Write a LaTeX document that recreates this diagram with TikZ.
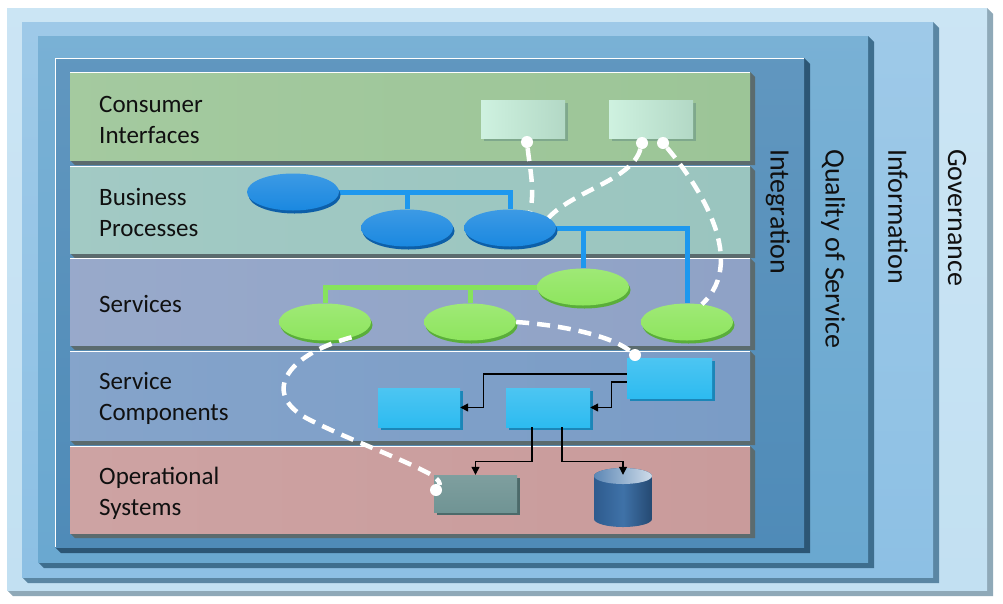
\documentclass[tikz,border=0pt]{standalone}
\usepackage{fontspec}
\setmainfont{Carlito}
\usetikzlibrary{shapes.geometric,arrows.meta,shadows}
\definecolor{govc}{HTML}{C2E0F2}
\definecolor{govs}{HTML}{8FA9B8}
\definecolor{infc}{HTML}{8DC0E4}
\definecolor{infs}{HTML}{5A86A3}
\definecolor{qosc}{HTML}{6AA8D0}
\definecolor{qoss}{HTML}{3E6E8E}
\definecolor{intc}{HTML}{4F8BB8}
\definecolor{ints}{HTML}{2C5675}
\definecolor{rowci}{HTML}{9CC597}
\definecolor{rowbp}{HTML}{9AC5BF}
\definecolor{rowsv}{HTML}{8FA2C6}
\definecolor{rowsc}{HTML}{7A9CC6}
\definecolor{rowos}{HTML}{C99B9B}
\definecolor{rowsh}{HTML}{5B6B6E}
\definecolor{bpblue}{HTML}{1A88E0}
\definecolor{bpdark}{HTML}{0D5FA8}
\definecolor{bpline}{HTML}{1E98EE}
\definecolor{svgreen}{HTML}{8EE55E}
\definecolor{svdark}{HTML}{5AAE3A}
\definecolor{svline}{HTML}{86E35C}
\definecolor{cyanbox}{HTML}{2DBBF0}
\definecolor{cyandark}{HTML}{1B86B8}
\definecolor{mint}{HTML}{C2EED8}
\definecolor{mintdark}{HTML}{7FA88C}
\definecolor{osbox}{HTML}{709494}
\definecolor{osdark}{HTML}{4C6A6A}
\definecolor{cylbody}{HTML}{2E5B8E}
\definecolor{cylmid}{HTML}{3F72A8}
\definecolor{labc}{HTML}{101010}
\pgfdeclarelayer{back}
\pgfdeclarelayer{lines}
\pgfsetlayers{back,lines,main}
\newcommand\slab[7]{%
  \fill[#6] (#3,#2) -- (#3+#7,#2+#7) -- (#3+#7,#4+#7) -- (#1+#7,#4+#7) -- (#1,#4) -- cycle;
  \fill[#5] (#1,#2) rectangle (#3,#4);
}
\tikzset{
  lab/.style={font=\fontsize{25}{31}\selectfont, text=labc, align=left, anchor=west, inner sep=0pt},
  vlab/.style={font=\fontsize{28}{32}\selectfont, text=labc, rotate=-90, anchor=west, inner sep=0pt},
  bpell/.style={ellipse, minimum width=92pt, minimum height=37pt, inner sep=0pt,
    top color=bpblue!85!white, bottom color=bpblue, general shadow={fill=bpdark, shadow xshift=1.5pt, shadow yshift=-3pt}},
  svell/.style={ellipse, minimum width=92pt, minimum height=37pt, inner sep=0pt,
    top color=svgreen!85!white, bottom color=svgreen, general shadow={fill=svdark, shadow xshift=1.5pt, shadow yshift=-3pt}},
  cibox/.style={rectangle, minimum width=84pt, minimum height=38pt, inner sep=0pt,
    left color=mint!80!white, right color=mint!90!black!95, general shadow={fill=mintdark, shadow xshift=3pt, shadow yshift=-3pt}},
  scbox/.style={rectangle, inner sep=0pt, top color=cyanbox!85!white, bottom color=cyanbox,
    general shadow={fill=cyandark, shadow xshift=3pt, shadow yshift=-3pt}},
  osstyle/.style={rectangle, minimum width=83pt, minimum height=37pt, inner sep=0pt, top color=osbox!90!white, bottom color=osbox,
    general shadow={fill=osdark, shadow xshift=3pt, shadow yshift=-3pt}},
  dot/.style={circle, fill=white, minimum size=12pt, inner sep=0pt},
  bpconn/.style={draw=bpline, line width=5pt},
  svconn/.style={draw=svline, line width=5pt},
  dashconn/.style={draw=white, line width=4.5pt, dash pattern=on 13pt off 8pt},
  arr/.style={draw=black, line width=1.2pt, -{Triangle[length=8pt,width=8pt]}},
}
\begin{document}
\begin{tikzpicture}[x=1pt, y=-1pt]
\useasboundingbox (0,0) rectangle (1003,603);
\begin{pgfonlayer}{back}
\fill[white] (0,0) rectangle (1003,603);
% nested frames
\slab{7}{8}{987}{590}{top color=govc!85!white, bottom color=govc}{govs}{6}
\slab{22}{22}{933}{577}{top color=infc!85!white, bottom color=infc}{infs}{6}
\slab{38}{36}{868}{562}{top color=qosc!90!white, bottom color=qosc}{qoss}{6}
\slab{55}{58}{804}{547}{top color=intc!90!white, bottom color=intc}{ints}{6}
\draw[white, line width=0.8pt] (55,547) -- (55,58) -- (804,58);
% layer rows
\slab{70}{72}{750}{160}{left color=rowci!92!white, right color=rowci}{rowsh}{5}
\slab{70}{166}{750}{253}{left color=rowbp!92!white, right color=rowbp}{rowsh}{5}
\slab{70}{258}{750}{345}{left color=rowsv!92!white, right color=rowsv}{rowsh}{5}
\slab{70}{351}{750}{440}{left color=rowsc!92!white, right color=rowsc}{rowsh}{5}
\slab{70}{446}{750}{533}{left color=rowos!92!white, right color=rowos}{rowsh}{5}
\foreach \yy in {72,166,258,351,446} \draw[white, line width=0.8pt] (70,\yy) -- (750,\yy);
\end{pgfonlayer}

% labels
\node[lab] (lci) at (99,120) {Consumer\\Interfaces};
\node[lab] (lbp) at (99,212) {Business\\Processes};
\node[lab] (lsv) at (99,304) {Services};
\node[lab] (lsc) at (99,398) {Service\\Components};
\node[lab] (los) at (99,493) {Operational\\Systems};
\node[vlab] (lint) at (778,149) {Integration};
\node[vlab] (lqos) at (833,149) {Quality of Service};
\node[vlab] (linf) at (898,149) {Information};
\node[vlab] (lgov) at (957,149) {Governance};

% consumer interfaces
\node[cibox] (ci1) at (523,119) {};
\node[cibox] (ci2) at (651,119) {};

% business processes
\node[bpell] (bp1) at (293,192) {};
\node[bpell] (bp2) at (407,228) {};
\node[bpell] (bp3) at (510,228) {};

% services
\node[svell] (s1) at (325,322) {};
\node[svell] (s2) at (470,322) {};
\node[svell] (s3) at (583,287) {};
\node[svell] (s4) at (687,322) {};

% service components
\node[scbox, minimum width=85pt, minimum height=40pt] (c1) at (669.5,378) {};
\node[scbox, minimum width=82pt, minimum height=39pt] (c2) at (419,407.5) {};
\node[scbox, minimum width=84pt, minimum height=39pt] (c3) at (548,407.5) {};

% operational systems
\node[osstyle] (os) at (475.5,493.5) {};
\node[minimum width=58pt, minimum height=59pt, inner sep=0pt] (db) at (623,497.5) {};
\begin{scope}[shift={(db.center)}, x=1pt, y=1pt]
  \shade[left color=cylbody, right color=cylbody!80!black, middle color=cylmid]
    (-29,21.5) -- (-29,-21.5) arc[start angle=180, end angle=360, x radius=29, y radius=8]
    -- (29,21.5) arc[start angle=0, end angle=180, x radius=29, y radius=8] -- cycle;
  \shade[left color=cylmid!85!white, right color=cylmid!25!white] (0,21.5) ellipse[x radius=29, y radius=8];
\end{scope}

% tree connectors
\begin{pgfonlayer}{lines}
\draw[bpconn] (bp1.east) -| (bp3.north);
\draw[bpconn] (bp2.north) -- (bp2.north |- bp1.east);
\draw[bpconn] (bp3.east) -| (s4.north);
\draw[bpconn] (s3.north) -- (s3.north |- bp3.east);
\draw[svconn] (s3.west) -| (s1.north);
\draw[svconn] (s2.north) -- (s2.north |- s3.west);
\end{pgfonlayer}

% component arrows
\draw[arr] ([yshift=4pt]c1.west) -| ([xshift=23pt]c2.east) -- (c2.east);
\draw[arr] ([yshift=-4pt]c1.west) -| ([xshift=21pt]c3.east) -- (c3.east);
\draw[arr] ([xshift=-16pt]c3.south) -- ++(0,34) -| (os.north);
\draw[arr] ([xshift=14pt]c3.south) -- ++(0,34) -| ([yshift=-7pt]db.north);

% dashed links
\node[dot] (d1) at (527,142) {};
\node[dot] (d2) at (642,143) {};
\node[dot] (d3) at (663,143) {};
\node[dot] (d4) at (635,355) {};
\node[dot] (d5) at (436,490) {};
\draw[dashconn] (d1) .. controls (530,170) and (535,190) .. (bp3.40);
\draw[dashconn] (d2) .. controls (632,180) and (575,190) .. (bp3.15);
\draw[dashconn] (d3) .. controls (690,175) and (752,258) .. (s4.50);
\draw[dashconn] (s2.east) .. controls (560,325) and (610,335) .. (d4);
\draw[dashconn] (s1.-30) .. controls (285,355) and (260,395) .. (310,420)
  .. controls (350,440) and (400,458) .. (430,474) .. controls (440,480) and (440,484) .. (d5);
\end{tikzpicture}
\end{document}
